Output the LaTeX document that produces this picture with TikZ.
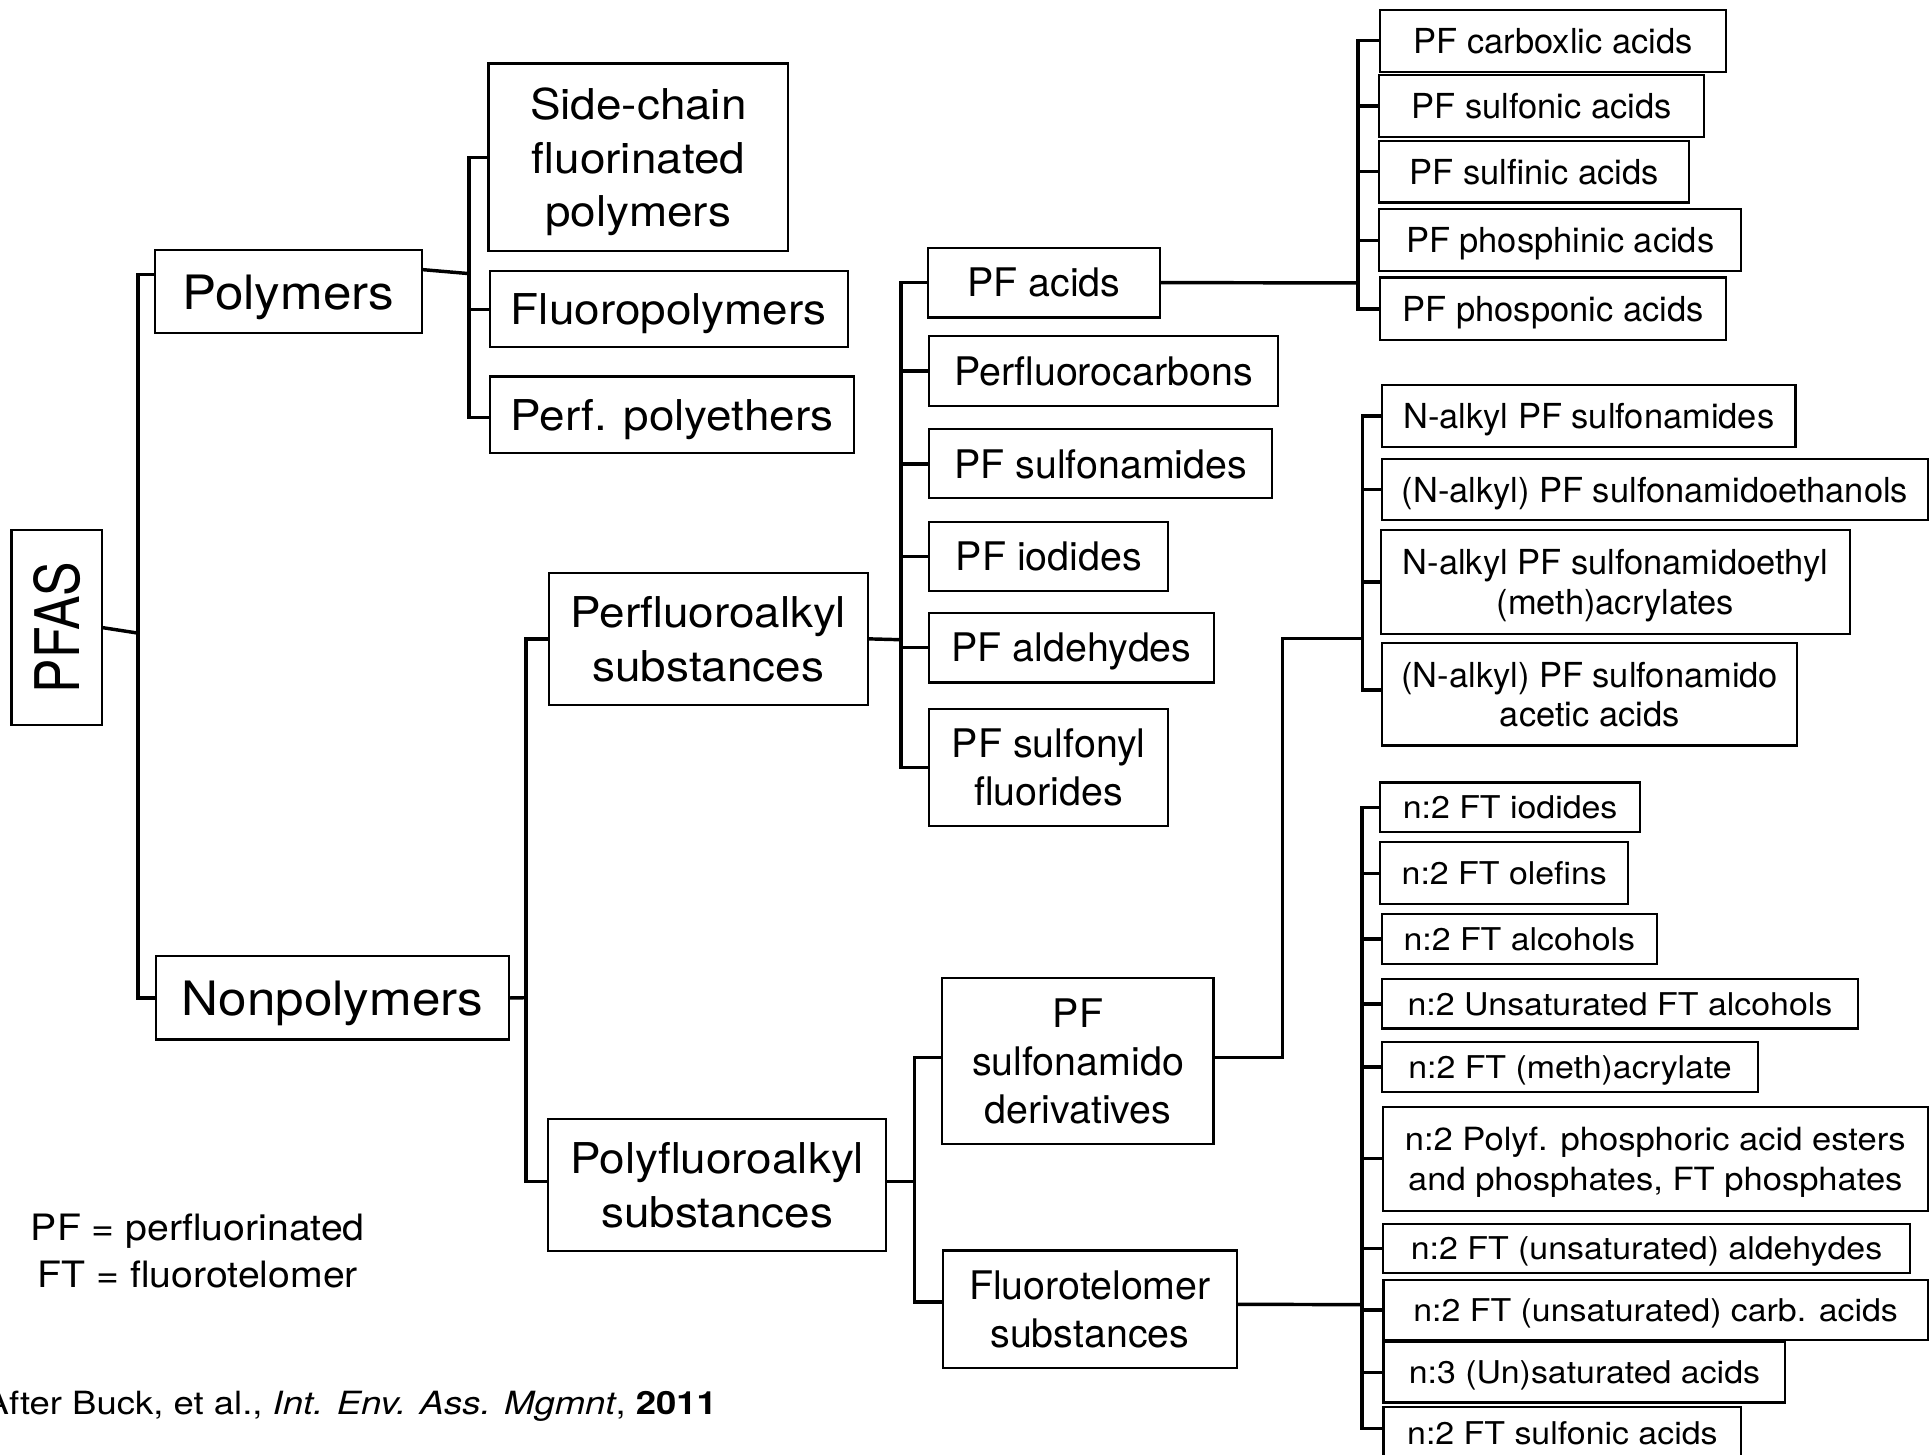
\documentclass[tikz,border=0pt]{standalone}
\usepackage{fontspec}
\setmainfont{TeX Gyre Heros}
\newfontfamily\herosW{TeX Gyre Heros}[FakeStretch=1.08]
\newfontfamily\herosN{TeX Gyre Heros}[FakeStretch=0.84]
\newfontfamily\herosC{TeX Gyre Heros}[FakeStretch=1.14]
\usepackage{tikz}

\begin{document}
\begin{tikzpicture}[x=1pt, y=-1pt,
        bx/.style={draw, line width=1.7pt, inner sep=0pt, align=center, text depth=0pt},
        wh/.style 2 args={minimum width=#1pt, minimum height=#2pt},
        rootn/.style={bx, font=\herosN\fontsize{50}{56}\selectfont},
        l1n/.style={bx, font=\herosW\fontsize{38.5}{44}\selectfont},
        l2n/.style={bx, font=\herosW\fontsize{34.5}{43.5}\selectfont},
        l3n/.style={bx, font=\fontsize{32}{39}\selectfont},
        l4n/.style={bx, font=\fontsize{28}{32}\selectfont},
        ftn/.style={bx, font=\herosW\fontsize{25.5}{33}\selectfont},
        ln/.style={line width=2.8pt}]
      \useasboundingbox (0,0) rectangle (1568,1182.7);

      \node[rootn, wh={73.3}{158.4}] (pfas) at (46,510.2) {\rotatebox{90}{PFAS}};
      \node[l1n, wh={217}{67.4}] (poly) at (234.5,237.2) {Polymers};
      \node[l1n, wh={286.8}{67.5}] (nonpoly) at (270.4,811.2) {Nonpolymers};

      \node[l2n, wh={243.7}{152.4}] (side) at (518.9,127.8) {Side-chain\\fluorinated\\polymers};
      \node[l2n, wh={291.2}{61.8}] (fluoro) at (543.6,251.4) {Fluoropolymers};
      \node[l2n, wh={296.3}{62}] (perf) at (546.2,337) {Perf. polyethers};
      \node[l2n, wh={259.4}{107.1}] (pfalkyl) at (575.7,519.3) {Perfluoroalkyl\\substances};
      \node[l2n, wh={274.2}{106.9}] (polyalkyl) at (582.9,963.3) {Polyfluoroalkyl\\substances};

      \node[l3n, wh={189}{56.7}] (pfacid) at (848.5,229.7) {PF acids};
      \node[l3n, wh={283.2}{56.6}] (pfcarb) at (897,301.4) {Perfluorocarbons};
      \node[l3n, wh={278.3}{56}] (pfsam) at (894.6,377) {PF sulfonamides};
      \node[l3n, wh={194.3}{56.4}] (pfiod) at (852.6,452.2) {PF iodides};
      \node[l3n, wh={231.1}{56.7}] (pfald) at (871,526.4) {PF aldehydes};
      \node[l3n, wh={193.9}{95.5}] (pfsf) at (852.4,623.7) {PF sulfonyl\\fluorides};
      \node[l3n, wh={220.4}{135.1}] (pfsder) at (876.2,862.5) {PF\\sulfonamido\\derivatives};
      \node[l3n, wh={238.6}{95.5}] (ftsub) at (885.9,1064.2) {Fluorotelomer\\substances};

      \node[l4n, wh={281}{50.4}] (a1) at (1262.5,33.1) {PF carboxlic acids};
      \node[l4n, wh={264}{50}] (a2) at (1253,86) {PF sulfonic acids};
      \node[l4n, wh={252}{50}] (a3) at (1247,139.6) {PF sulfinic acids};
      \node[l4n, wh={294.4}{50.5}] (a4) at (1268.2,195.3) {PF phosphinic acids};
      \node[l4n, wh={281}{50.8}] (a5) at (1262.5,251) {PF phosponic acids};

      \node[l4n, wh={335.9}{50}] (s1) at (1291.5,338) {N-alkyl PF sulfonamides};
      \node[l4n, wh={443.5}{50}] (s2) at (1345.2,398) {(N-alkyl) PF sulfonamidoethanols};
      \node[l4n, wh={380.8}{84}] (s3) at (1313,473) {N-alkyl PF sulfonamidoethyl\\(meth)acrylates};
      \node[l4n, wh={337.5}{83}] (s4) at (1292.2,564.5) {(N-alkyl) PF sulfonamido\\acetic acids};

      \node[ftn, wh={211}{40.3}] (f1) at (1227.5,656.2) {n:2 FT iodides};
      \node[ftn, wh={201.5}{50.5}] (f2) at (1222.8,709.8) {n:2 FT olefins};
      \node[ftn, wh={224}{40.5}] (f3) at (1235,763.3) {n:2 FT alcohols};
      \node[ftn, wh={386.5}{40}] (f4) at (1316.8,816) {n:2 Unsaturated FT alcohols};
      \node[ftn, wh={305.5}{40.5}] (f5) at (1276.2,867.2) {n:2 FT (meth)acrylate};
      \node[ftn, font=\herosW\fontsize{26}{33}\selectfont, wh={443}{84.6}] (f6) at (1345.5,941.9)
        {n:2 Polyf. phosphoric acid esters\\and phosphates, FT phosphates};
      \node[ftn, wh={427.8}{39.5}] (f7) at (1338.4,1014.8) {n:2 FT (unsaturated) aldehydes};
      \node[ftn, wh={442.5}{48.4}] (f8) at (1345.8,1064.8) {n:2 FT (unsaturated) carb. acids};
      \node[ftn, wh={326.7}{49}] (f9) at (1287.9,1115.5) {n:3 (Un)saturated acids};
      \node[ftn, wh={290.9}{42}] (f10) at (1270,1165) {n:2 FT sulfonic acids};

      \node[align=center, anchor=base, font=\herosW\fontsize{29.5}{38.2}\selectfont] (key) at (160.8,1046.4)
        {PF = perfluorinated\\FT = fluorotelomer};
      \node[anchor=base east, inner sep=0pt, font=\herosC\fontsize{26}{30}\selectfont] (cite) at (583,1149.7)
        {After Buck, et al., \textit{Int. Env. Ass. Mgmnt}, \textbf{2011}};

      \coordinate (jl) at (112,514.6);
      \coordinate (jp) at (381.2,222.4);
      \coordinate (jn) at (427.6,811);
      \coordinate (jf) at (732.4,520);
      \coordinate (jy) at (743.2,960.4);
      \coordinate (ja) at (1104,230);
      \coordinate (jk) at (1042.6,519);
      \coordinate (js) at (1107.6,519);
      \coordinate (jt) at (1107.2,1060.5);

      \draw [ln] (pfas.east) -- (jl);
      \draw [ln] ([yshift=14pt]poly.west) -| (jl) |- (nonpoly.west);
      \draw [ln] ([yshift=18pt]poly.east) -- (jp);
      \draw [ln] (side.west) -| (jp) |- ([yshift=-2.4pt]perf.west);
      \draw [ln] (fluoro.west) -- (fluoro.west -| jp);
      \draw [ln] (nonpoly.east) -- (jn);
      \draw [ln] (pfalkyl.west) -| (jn) |- ([yshift=3pt]polyalkyl.west);
      \draw [ln] (pfalkyl.east) -- (jf);
      \draw [ln] (pfacid.west) -| (jf) |- (pfsf.west);
      \foreach \nd in {pfcarb, pfsam, pfiod, pfald}
        \draw [ln] (\nd.west) -- (\nd.west -| jf);
      \draw [ln] (polyalkyl.east |- jy) -- (jy);
      \draw [ln] ([yshift=3pt]pfsder.west) -| (jy) |- ([yshift=6pt]ftsub.west);
      \draw [ln] (pfacid.east) -- (ja);
      \draw [ln] (a1.west) -| (ja) |- (a5.west);
      \foreach \nd in {a2, a3, a4}
        \draw [ln] (\nd.west) -- (\nd.west -| ja);
      \draw [ln] ([yshift=3pt]pfsder.east) -| (jk) -- (js);
      \draw [ln] (s1.west) -| (js) |- ([yshift=3.5pt]s4.west);
      \foreach \nd in {s2, s3}
        \draw [ln] (\nd.west) -- (\nd.west -| js);
      \draw [ln] ([yshift=4pt]ftsub.east) -- (jt);
      \draw [ln] (f1.west) -| (jt) |- ([yshift=4pt]f10.west);
      \foreach \nd in {f2, f3, f4, f5, f6, f7, f8, f9}
        \draw [ln] (\nd.west) -- (\nd.west -| jt);
    \end{tikzpicture}
\end{document}
